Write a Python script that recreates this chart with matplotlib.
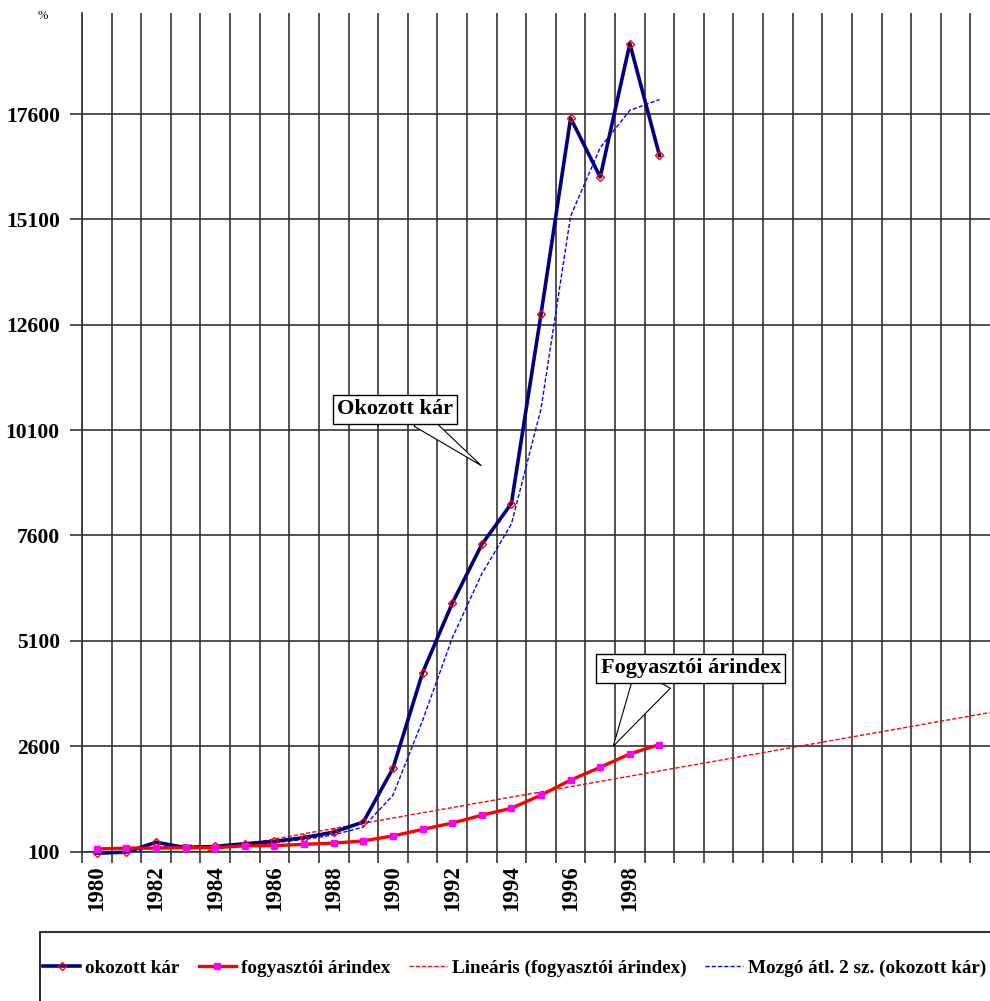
import numpy as np
import pandas as pd
import matplotlib
matplotlib.use('Agg')
import matplotlib.pyplot as plt
from matplotlib.patches import Rectangle

# adatok (leolvasva)
years = list(range(1980, 2000))
okozott = [60, 85, 320, 190, 220, 285, 340, 430, 560, 800, 2073, 4341,
           5987, 7387, 8359, 12850, 17506, 16106, 19271, 16621]
arindex = [160, 180, 180, 190, 190, 235, 240, 270, 300, 350, 470, 625,
           776, 960, 1127, 1437, 1795, 2099, 2416, 2638]
yticks = [100, 2600, 5100, 7600, 10100, 12600, 15100, 17600]
n_cat = 31  # kategoriak szama a tengelyen (1980-2010)

plt.rcParams['font.family'] = ['Liberation Serif', 'DejaVu Serif']

fig = plt.figure(figsize=(9.9, 10.01), dpi=100)
ax = fig.add_axes([82/990, 149.5/1001, 918/990, 838.5/1001])

x = np.arange(len(years))
grid_c = '#333333'

ax.plot(x, okozott, color='#000080', lw=2.6, marker='D', ms=4.5, mfc='none',
        mec='red', mew=1, clip_on=False, zorder=5, label='okozott kár')
ax.plot(x, arindex, color='red', lw=2.4, marker='s', ms=4.5, mfc='#ff00ff',
        mec='#ff00ff', zorder=5, label='fogyasztói árindex')

# linearis trend
coef = np.polyfit(x, arindex, 1)
xt = np.array([0, n_cat - 0.5])
ax.plot(xt, np.polyval(coef, xt), color='red', lw=1, ls=(0, (3, 1.5)),
        zorder=4, label='Lineáris (fogyasztói árindex)')

# mozgo atlag
ma = pd.Series(okozott).rolling(2).mean()
ax.plot(x, ma, color='blue', lw=1, ls=(0, (3, 1.5)), zorder=4,
        clip_on=False, label='Mozgó átl. 2 sz. (okozott kár)')

ax.set_xlim(-0.5, n_cat - 0.5)
ax.set_ylim(100, 20000)
ax.set_yticks(yticks)
ax.set_yticklabels([str(v) for v in yticks], fontsize=15.5, fontweight='bold')
ax.set_xticks(np.arange(-0.5, n_cat, 1))
ax.set_xticklabels([])
ax.set_xticks(x[::2], minor=True)
ax.set_xticklabels([str(y) for y in years[::2]], minor=True, rotation=90,
                   fontsize=16.5, fontweight='bold')
ax.tick_params(axis='x', which='minor', length=0, pad=10)
ax.tick_params(axis='x', which='major', length=8, width=1.2, color=grid_c)
ax.tick_params(axis='y', length=9, width=1.2, color=grid_c, pad=7)
ax.grid(True, which='major', color=grid_c, lw=1.2, zorder=1)
ax.set_axisbelow(True)
for s in ['top', 'right']:
    ax.spines[s].set_visible(False)
for s in ['left', 'bottom']:
    ax.spines[s].set_color(grid_c)
    ax.spines[s].set_linewidth(1.2)

# feliratok (buborekok)
ax.annotate('Okozott kár', xy=(12.98, 9260), xytext=(10.07, 10600),
            ha='center', va='center', fontsize=16, fontweight='bold',
            bbox=dict(boxstyle='square,pad=0.2', fc='white', ec='black', lw=1),
            arrowprops=dict(arrowstyle='wedge,tail_width=0.8,shrink_factor=0.5',
                            fc='white', ec='black', lw=0.8, relpos=(0.71, 0.0),
                            patchA=None, shrinkA=0, shrinkB=0), zorder=6)
ax.annotate('Fogyasztói árindex', xy=(17.44, 2600), xytext=(20.06, 4450),
            ha='center', va='center', fontsize=16, fontweight='bold',
            bbox=dict(boxstyle='square,pad=0.2', fc='white', ec='black', lw=1),
            arrowprops=dict(arrowstyle='wedge,tail_width=1.8,shrink_factor=0.5',
                            fc='white', ec='black', lw=0.8, relpos=(0.29, 0.0),
                            patchA=None, shrinkA=0, shrinkB=0), zorder=6)

fig.text(42.5/990, 1 - 16/1001, '%', fontsize=9, ha='center', va='center')

# jelmagyarazat
h, l = ax.get_legend_handles_labels()
fig.legend(h, l, loc='center left', bbox_to_anchor=(43/990, 1 - 968/1001),
           ncol=4, frameon=False, prop=dict(weight='bold', size=13.8),
           handlelength=1.95, handletextpad=0.25, columnspacing=1.0,
           borderpad=0, borderaxespad=0)
fig.patches.append(Rectangle((40/990, -0.05), 1.0, 0.05 + 1 - 932/1001,
                             transform=fig.transFigure, fill=False,
                             ec=grid_c, lw=1.5))

fig.savefig('out.png', dpi=100)
